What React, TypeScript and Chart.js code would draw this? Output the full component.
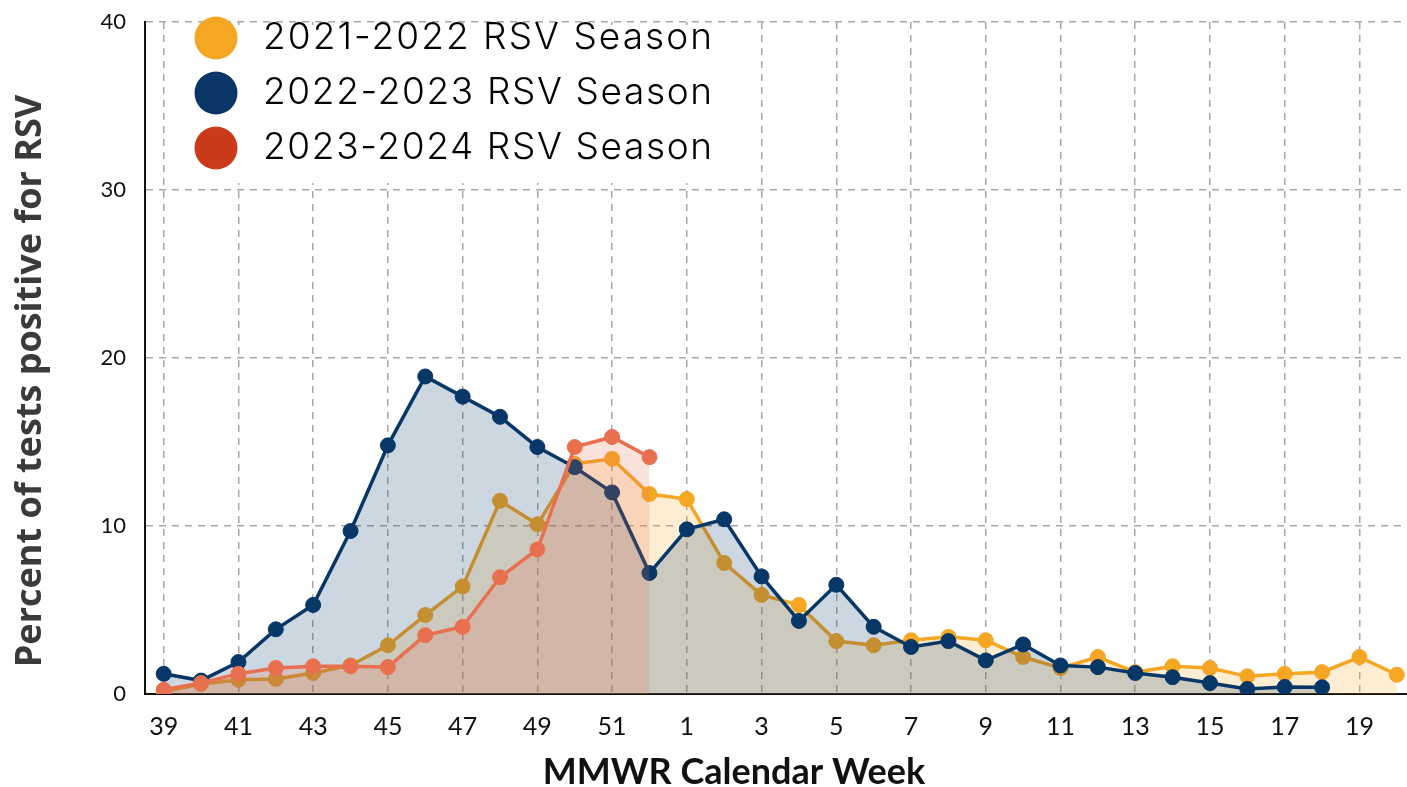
import React, { useEffect, useRef } from 'react';
import { Chart, registerables } from 'chart.js';

Chart.register(...registerables);

const WEEKS = [
  '39', '40', '41', '42', '43', '44', '45', '46', '47', '48', '49', '50', '51', '52',
  '1', '2', '3', '4', '5', '6', '7', '8', '9', '10', '11', '12', '13', '14', '15', '16', '17', '18', '19', '20',
];

const SEASON_LABELS = ['2021-2022 RSV Season', '2022-2023 RSV Season', '2023-2024 RSV Season'];

const SEASON_2021_22 = [
  0.15, 0.6, 0.85, 0.9, 1.25, 1.7, 2.9, 4.7, 6.4, 11.5, 10.1, 13.7, 14.0, 11.9,
  11.6, 7.8, 5.9, 5.3, 3.15, 2.9, 3.2, 3.4, 3.2, 2.2, 1.55, 2.2, 1.3, 1.65, 1.55, 1.05, 1.2, 1.3, 2.2, 1.15,
];

const SEASON_2022_23 = [
  1.2, 0.8, 1.9, 3.85, 5.3, 9.7, 14.8, 18.9, 17.7, 16.5, 14.7, 13.5, 12.0, 7.2,
  9.8, 10.4, 7.0, 4.35, 6.5, 4.0, 2.8, 3.15, 2.0, 2.95, 1.7, 1.6, 1.25, 1.0, 0.65, 0.3, 0.42, 0.4, null, null,
];

const SEASON_2023_24 = [
  0.25, 0.65, 1.2, 1.55, 1.65, 1.65, 1.6, 3.5, 4.0, 6.95, 8.6, 14.7, 15.3, 14.1,
  null, null, null, null, null, null, null, null, null, null, null, null, null, null, null, null, null, null, null, null,
];

const Y_TICKS = [0, 10, 20, 30, 40];

const X_TITLE = 'MMWR Calendar Week';
const Y_TITLE = 'Percent of tests positive for RSV';

const LINE_COLORS = ['#F5A623', '#063767', '#E8704F'];
const FILL_COLORS = ['rgba(245,166,35,0.2)', 'rgba(6,55,103,0.2)', 'rgba(232,112,79,0.2)'];
const LEGEND_COLORS = ['#F5A623', '#093567', '#C83A19'];

const legendPlugin = {
  id: 'insideLegend',
  afterDraw(chart: any) {
    const ctx = chart.ctx;
    ctx.save();
    ctx.fillStyle = '#ffffff';
    ctx.fillRect(172, 25, 560, 158);
    SEASON_LABELS.forEach((label, i) => {
      const cy = 38 + i * 55;
      ctx.beginPath();
      ctx.fillStyle = LEGEND_COLORS[i];
      ctx.arc(216, cy, 21.5, 0, Math.PI * 2);
      ctx.fill();
      ctx.fillStyle = '#000000';
      ctx.font = '300 37px Inter, "Open Sans", sans-serif';
      ctx.textBaseline = 'middle';
      ctx.textAlign = 'left';
      ctx.letterSpacing = '0px';
      const w = ctx.measureText(label).width;
      const extra = Math.max(0, (449 - w) / (label.length - 1));
      ctx.letterSpacing = extra.toFixed(2) + 'px';
      ctx.fillText(label, 263, cy);
    });
    ctx.restore();
  },
};

const titlePlugin = {
  id: 'axisTitles',
  afterDraw(chart: any) {
    const ctx = chart.ctx;
    ctx.save();
    ctx.textAlign = 'center';
    ctx.textBaseline = 'middle';
    ctx.fillStyle = '#111111';
    ctx.font = '700 36px Lato, sans-serif';
    ctx.fillText(X_TITLE, 734, 772);
    ctx.fillStyle = '#3a3a3a';
    ctx.font = '700 36px "Open Sans", sans-serif';
    ctx.translate(31, 381);
    ctx.rotate(-Math.PI / 2);
    ctx.fillText(Y_TITLE, 0, 0);
    ctx.restore();
  },
};

export default function App() {
  const ref = useRef<HTMLCanvasElement>(null);

  useEffect(() => {
    document.body.style.margin = '0';
    document.body.style.overflow = 'hidden';
    const series = [SEASON_2021_22, SEASON_2022_23, SEASON_2023_24];
    const chart = new Chart(ref.current as HTMLCanvasElement, {
      type: 'line',
      data: {
        labels: WEEKS,
        datasets: series.map((data, i) => ({
          label: SEASON_LABELS[i],
          data,
          borderColor: LINE_COLORS[i],
          backgroundColor: FILL_COLORS[i],
          pointBackgroundColor: LINE_COLORS[i],
          pointBorderColor: LINE_COLORS[i],
          pointBorderWidth: 1,
          pointRadius: 7.5,
          borderWidth: 3.5,
          fill: 'origin',
          tension: 0,
          spanGaps: false,
          order: 3 - i,
        })),
      },
      options: {
        animation: false,
        responsive: true,
        maintainAspectRatio: false,
        layout: { padding: { top: 22, left: 0, right: 0, bottom: 0 } },
        plugins: {
          legend: { display: false },
          tooltip: { enabled: false },
        },
        scales: {
          x: {
            type: 'category',
            offset: true,
            grid: {
              offset: false,
              drawTicks: false,
              lineWidth: 1.5,
              color: (c: any) => (c.index % 2 === 0 ? '#A8A8A8' : 'rgba(0,0,0,0)'),
            },
            border: { display: true, color: '#111111', width: 2, dash: [7, 6] },
            ticks: {
              autoSkip: false,
              maxRotation: 0,
              padding: 18,
              color: '#111111',
              font: { family: 'Lato', size: 25 },
              callback: (_v: any, idx: number) => (idx % 2 === 0 ? WEEKS[idx] : ''),
            },
            afterFit: (s: any) => {
              s.height = 93;
              s.paddingLeft = 0;
              s.paddingRight = 0;
            },
          },
          y: {
            min: 0,
            max: 40,
            afterBuildTicks: (s: any) => {
              s.ticks = Y_TICKS.map((v) => ({ value: v }));
            },
            grid: {
              drawTicks: false,
              lineWidth: 1.5,
              color: '#A8A8A8',
            },
            border: { display: true, color: '#111111', width: 2, dash: [7, 6] },
            ticks: {
              padding: 19,
              color: '#111111',
              font: { family: 'Lato', size: 22 },
            },
            afterFit: (s: any) => {
              s.width = 145;
              s.paddingTop = 0;
              s.paddingBottom = 0;
            },
          },
        },
      },
      plugins: [legendPlugin, titlePlugin],
    });
    return () => chart.destroy();
  }, []);

  return (
    <div style={{ width: 1407, height: 787, overflow: 'hidden', position: 'relative', background: '#fff' }}>
      <div style={{ width: 1424, height: 787, position: 'relative' }}>
        <canvas ref={ref} />
      </div>
    </div>
  );
}
